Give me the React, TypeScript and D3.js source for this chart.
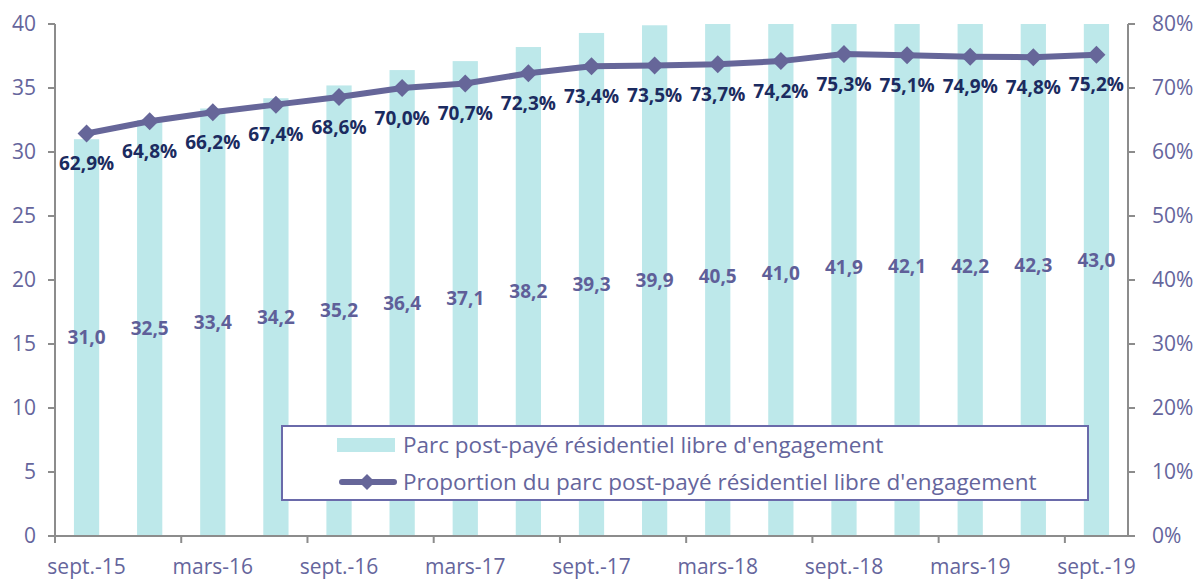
import React from 'react';
import * as d3 from 'd3';

const categories = [
  'sept.-15', 'déc.-15', 'mars-16', 'juin-16', 'sept.-16', 'déc.-16', 'mars-17', 'juin-17',
  'sept.-17', 'déc.-17', 'mars-18', 'juin-18', 'sept.-18', 'déc.-18', 'mars-19', 'juin-19', 'sept.-19',
];
const parcValues = [31.0, 32.5, 33.4, 34.2, 35.2, 36.4, 37.1, 38.2, 39.3, 39.9, 40.5, 41.0, 41.9, 42.1, 42.2, 42.3, 43.0];
const proportionValues = [62.9, 64.8, 66.2, 67.4, 68.6, 70.0, 70.7, 72.3, 73.4, 73.5, 73.7, 74.2, 75.3, 75.1, 74.9, 74.8, 75.2];
const leftTicks = [0, 5, 10, 15, 20, 25, 30, 35, 40];
const rightTicks = [0, 10, 20, 30, 40, 50, 60, 70, 80];
const legendLabels = [
  'Parc post-payé résidentiel libre d\'engagement',
  'Proportion du parc post-payé résidentiel libre d\'engagement',
];

const W = 1200;
const H = 581;
const FONT = '"Open Sans", sans-serif';
const AXIS_TEXT = '#65659c';
const BAR = '#bde8ea';
const LINE = '#666699';
const PCT_TEXT = '#1b2b60';
const AXIS_LINE = '#8c8c8c';

const fr = (v: number) => v.toFixed(1).replace('.', ',');

function diamond(cx: number, cy: number, r: number) {
  return `M${cx},${cy - r}L${cx + r},${cy}L${cx},${cy + r}L${cx - r},${cy}Z`;
}

export default function App(): React.ReactElement {
  const x = d3.scaleBand<string>()
    .domain(categories)
    .range([55, 1128])
    .paddingInner(0.6)
    .paddingOuter(0.3);
  const y = d3.scaleLinear().domain([0, 40]).range([536, 24]);
  const y2 = d3.scaleLinear().domain([0, 80]).range([536, 24]);
  const step = x.step();
  const cx = (c: string) => (x(c) ?? 0) + x.bandwidth() / 2;

  const line = d3.line<number>()
    .x((_, i) => cx(categories[i]))
    .y((d) => y2(d));

  const xTickCats = categories.filter((_, i) => i % 2 === 0);

  return (
    <svg width={W} height={H} style={{ position: 'absolute', left: 0, top: 0 }} fontFamily={FONT}>
      <rect width={W} height={H} fill="#fff" />
      {/* bars, clipped at the top of the axis */}
      {parcValues.map((v, i) => (
        <rect
          key={categories[i]}
          x={x(categories[i])}
          y={y(Math.min(v, 40))}
          width={x.bandwidth()}
          height={y(0) - y(Math.min(v, 40))}
          fill={BAR}
        />
      ))}
      {parcValues.map((v, i) => (
        <text
          key={`bl${i}`}
          x={cx(categories[i])}
          y={y(v / 2)}
          dy="0.35em"
          textAnchor="middle"
          fontWeight="bold"
          fontSize={19}
          fill="#5f5f99"
        >
          {fr(v)}
        </text>
      ))}

      {/* axes */}
      <g stroke={AXIS_LINE} strokeWidth={2} fill="none">
        <line x1={55} x2={55} y1={24} y2={537} />
        <line x1={1128} x2={1128} y1={24} y2={537} />
        <line x1={54} x2={1129} y1={536} y2={536} />
        {leftTicks.map((t) => <line key={`lt${t}`} x1={48} x2={55} y1={y(t)} y2={y(t)} />)}
        {rightTicks.map((t) => <line key={`rt${t}`} x1={1128} x2={1135} y1={y2(t)} y2={y2(t)} />)}
        {d3.range(0, categories.length + 1, 2).map((k) => (
          <line key={`xt${k}`} x1={55 + k * step} x2={55 + k * step} y1={536} y2={543} />
        ))}
      </g>
      {leftTicks.map((t) => (
        <text key={`ltl${t}`} x={36} y={y(t)} dy="0.35em" textAnchor="end" fontSize={21} fill={AXIS_TEXT}>{t}</text>
      ))}
      {rightTicks.map((t) => (
        <text key={`rtl${t}`} x={1152} y={y2(t)} dy="0.35em" fontSize={21} fill={AXIS_TEXT}>{`${t}%`}</text>
      ))}
      {xTickCats.map((c) => (
        <text key={`xl${c}`} x={cx(c)} y={567} dy="0.35em" textAnchor="middle" fontSize={21} fill={AXIS_TEXT}>{c}</text>
      ))}

      {/* line series */}
      <path d={line(proportionValues) ?? ''} fill="none" stroke={LINE} strokeWidth={6} strokeLinejoin="round" />
      {proportionValues.map((v, i) => (
        <path key={`m${i}`} d={diamond(cx(categories[i]), y2(v), 9)} fill={LINE} />
      ))}
      {proportionValues.map((v, i) => (
        <text
          key={`pl${i}`}
          x={cx(categories[i])}
          y={y2(v) + 30}
          dy="0.35em"
          textAnchor="middle"
          fontWeight="bold"
          fontSize={19}
          fill={PCT_TEXT}
        >
          {`${fr(v)}%`}
        </text>
      ))}

      {/* legend */}
      <g>
        <rect x={282} y={426} width={806} height={74} fill="#fff" stroke="#6a6aaa" strokeWidth={2} />
        <rect x={337} y={438} width={58} height={14} fill={BAR} />
        <text x={403} y={445} dy="0.35em" fontSize={22.5} fill={AXIS_TEXT}>{legendLabels[0]}</text>
        <line x1={342} x2={394} y1={482} y2={482} stroke={LINE} strokeWidth={6} strokeLinecap="round" />
        <path d={diamond(367, 482, 8)} fill={LINE} />
        <text x={403} y={482} dy="0.35em" fontSize={22.5} fill={AXIS_TEXT}>{legendLabels[1]}</text>
      </g>
    </svg>
  );
}
